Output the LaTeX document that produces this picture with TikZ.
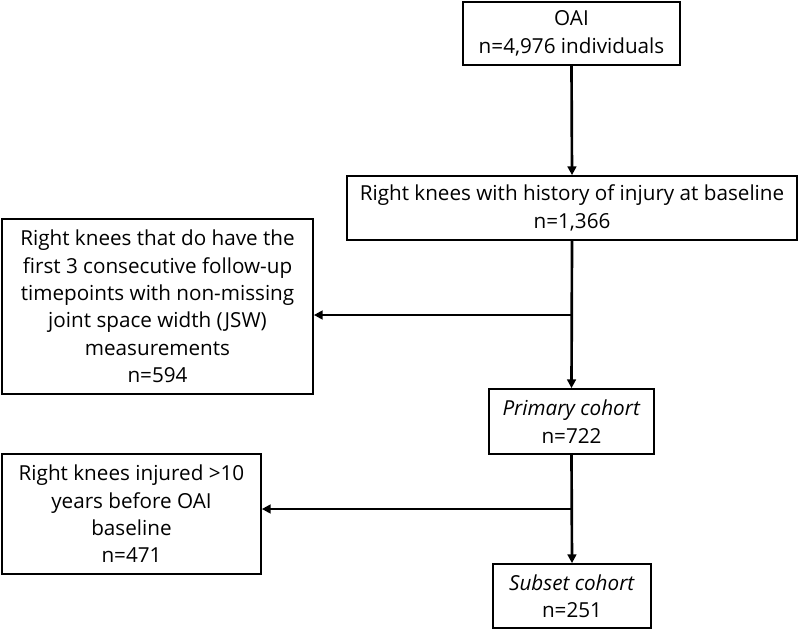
\documentclass[tikz,border=0pt]{standalone}
\usepackage{fontspec}
\setmainfont{Open Sans}
\usetikzlibrary{arrows.meta}

\tikzset{
  flowbox/.style={draw, line width=1.3pt, align=center, inner sep=0pt,
    font=\fontsize{15.5}{20.5}\selectfont},
  flowline/.style={line width=2pt},
  flowarrow/.style={flowline, -{Triangle[length=6.5pt,width=6.5pt]}}
}

\begin{document}
\begin{tikzpicture}[x=0.75pt,y=-0.75pt]
  \useasboundingbox (0,0) rectangle (799,631);

  \node[flowbox, minimum width=162.75pt, minimum height=47.25pt] (oai) at (571.5,33.5)
    {OAI\\n=4,976 individuals};
  \node[flowbox, minimum width=337.5pt, minimum height=48pt] (hist) at (572,208)
    {Right knees with history of injury at baseline\\n=1,366};
  \node[flowbox, minimum width=233.25pt, minimum height=131.25pt] (excl1) at (157.5,306.5)
    {Right knees that do have the\\first 3 consecutive follow-up\\timepoints with non-missing\\joint space width (JSW)\\measurements\\n=594};
  \node[flowbox, minimum width=123.75pt, minimum height=48.75pt] (primary) at (571.5,421.5)
    {\textit{Primary cohort}\\n=722};
  \node[flowbox, minimum width=194.25pt, minimum height=90pt] (excl2) at (131.5,514)
    {Right knees injured >10\\years before OAI\\baseline\\n=471};
  \node[flowbox, minimum width=118.5pt, minimum height=48pt] (subset) at (572,596)
    {\textit{Subset cohort}\\n=251};

  \coordinate (split1) at (572,315);
  \coordinate (split2) at (572,509);

  \draw[flowarrow] (oai.south) -- (hist.north);
  \draw[flowarrow] (hist.south) -- (primary.north);
  \draw[flowarrow] (split1) -- (split1 -| excl1.east);
  \draw[flowarrow] (primary.south) -- (subset.north);
  \draw[flowarrow] (split2) -- (split2 -| excl2.east);
\end{tikzpicture}
\end{document}
